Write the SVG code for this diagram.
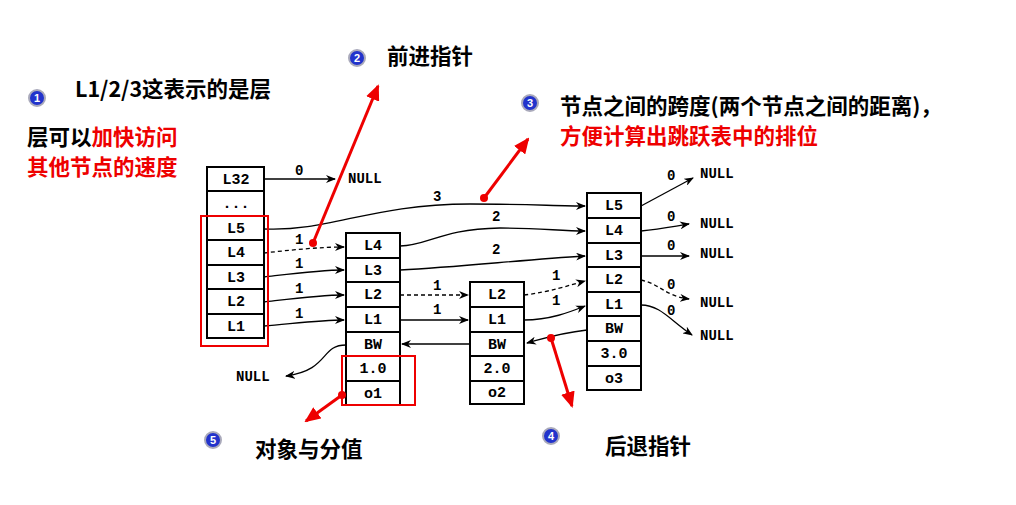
<svg xmlns="http://www.w3.org/2000/svg" width="1016" height="505" viewBox="0 0 1016 505">
<defs>
<marker id="a" markerWidth="10" markerHeight="8" refX="9" refY="4" orient="auto" markerUnits="userSpaceOnUse"><path d="M0,0 L10,4 L0,8 L3,4 Z" fill="#000"/></marker>
<marker id="r" markerWidth="16" markerHeight="14" refX="14" refY="7" orient="auto" markerUnits="userSpaceOnUse"><path d="M0,0 L16,7 L0,14 Z" fill="#e00"/></marker>
<style>
.c{fill:#fff;stroke:#000;stroke-width:2}
.t{font-family:"Liberation Mono",monospace;font-size:15px;font-weight:bold;text-anchor:middle}
.n{font-family:"Liberation Mono",monospace;font-size:14px;font-weight:bold}
.l{fill:none;stroke:#000;stroke-width:1.3;marker-end:url(#a)}
.d{stroke-dasharray:4,3}
.rb{fill:none;stroke:#e00;stroke-width:2}
.ra{stroke:#e00;stroke-width:3;marker-end:url(#r)}
.h{font-family:"Noto Sans CJK SC",sans-serif;font-size:21.5px;font-weight:bold}
.red{fill:#e00}
.b{fill:#2233cc;stroke:#aab;stroke-width:2}
.bn{font-family:"Liberation Sans",sans-serif;font-size:11px;fill:#fff;font-weight:bold;text-anchor:middle}
</style>
</defs>
<g id="n0">
<rect class="c" x="207" y="167" width="57" height="171"/>
<path d="M207 191H264M207 216H264M207 240H264M207 265H264M207 289H264M207 314H264" stroke="#000" stroke-width="2"/>
<text class="t" x="236" y="184">L32</text><text class="t" x="236" y="208">...</text><text class="t" x="236" y="233">L5</text><text class="t" x="236" y="257">L4</text><text class="t" x="236" y="282">L3</text><text class="t" x="236" y="306">L2</text><text class="t" x="236" y="331">L1</text>
</g>
<g id="n1">
<rect class="c" x="346" y="233" width="54" height="172"/>
<path d="M346 258H400M346 282H400M346 307H400M346 332H400M346 356H400M346 381H400" stroke="#000" stroke-width="2"/>
<text class="t" x="373" y="250">L4</text><text class="t" x="373" y="275">L3</text><text class="t" x="373" y="299">L2</text><text class="t" x="373" y="324">L1</text><text class="t" x="373" y="349">BW</text><text class="t" x="373" y="373">1.0</text><text class="t" x="373" y="398">o1</text>
</g>
<g id="n2">
<rect class="c" x="470" y="282" width="54" height="122"/>
<path d="M470 307H524M470 332H524M470 356H524M470 381H524" stroke="#000" stroke-width="2"/>
<text class="t" x="497" y="299">L2</text><text class="t" x="497" y="324">L1</text><text class="t" x="497" y="349">BW</text><text class="t" x="497" y="373">2.0</text><text class="t" x="497" y="397">o2</text>
</g>
<g id="n3">
<rect class="c" x="587" y="193" width="54" height="197"/>
<path d="M587 218H641M587 243H641M587 267H641M587 292H641M587 316H641M587 341H641M587 366H641" stroke="#000" stroke-width="2"/>
<text class="t" x="614" y="210">L5</text><text class="t" x="614" y="235">L4</text><text class="t" x="614" y="260">L3</text><text class="t" x="614" y="284">L2</text><text class="t" x="614" y="309">L1</text><text class="t" x="614" y="333">BW</text><text class="t" x="614" y="358">3.0</text><text class="t" x="614" y="383">o3</text>
</g>
<g id="connectors">
<path class="l" d="M264 179H335"/>
<path class="l" d="M264 229C330 232 370 204 470 204C520 204 560 206 585 206"/>
<path class="l d" d="M264 253C290 250 320 247 344 247"/>
<path class="l" d="M264 277C290 274 320 270 344 270"/>
<path class="l" d="M264 302C290 299 320 295 344 295"/>
<path class="l" d="M264 326C290 324 320 320 344 320"/>
<path class="l" d="M400 246C430 245 440 229 500 228C540 228 560 231 585 231"/>
<path class="l" d="M400 270C460 267 520 260 585 256"/>
<path class="l d" d="M400 295H468"/>
<path class="l" d="M400 320H468"/>
<path class="l d" d="M524 295C550 292 570 285 585 281"/>
<path class="l" d="M524 320C550 320 570 312 585 306"/>
<path class="l" d="M587 330C560 333 545 338 527 343"/>
<path class="l" d="M470 344H402"/>
<path class="l" d="M346 345C320 345 330 370 286 376"/>
<path class="l" d="M641 206L693 178"/>
<path class="l" d="M641 231C660 229 670 227 689 224"/>
<path class="l" d="M641 256H689"/>
<path class="l d" d="M641 280C660 284 665 296 689 299"/>
<path class="l" d="M641 305C660 305 670 320 692 335"/>
</g>
<g class="n">
<text x="295" y="175">0</text><text x="348" y="183">NULL</text>
<text x="433" y="201">3</text>
<text x="295" y="244">1</text><text x="295" y="268">1</text><text x="295" y="293">1</text><text x="295" y="318">1</text>
<text x="492" y="221">2</text><text x="492" y="254">2</text>
<text x="433" y="290">1</text><text x="433" y="314">1</text>
<text x="552" y="280">1</text><text x="552" y="305">1</text>
<text x="236" y="381">NULL</text>
<text x="667" y="180">0</text><text x="700" y="178">NULL</text>
<text x="667" y="221">0</text><text x="700" y="228">NULL</text>
<text x="667" y="250">0</text><text x="700" y="258">NULL</text>
<text x="667" y="289">0</text><text x="700" y="307">NULL</text>
<text x="667" y="315">0</text><text x="700" y="340">NULL</text>
</g>
<rect class="rb" x="201" y="216" width="67" height="130"/>
<rect class="rb" x="342" y="356" width="73" height="49"/>
<g>
<line class="ra" x1="313" y1="243" x2="378" y2="86"/><circle cx="313" cy="243" r="4" fill="#e00"/>
<line class="ra" x1="484" y1="198" x2="528" y2="139"/><circle cx="484" cy="198" r="4" fill="#e00"/>
<line class="ra" x1="551" y1="338" x2="572" y2="406"/><circle cx="551" cy="338" r="4" fill="#e00"/>
<line class="ra" x1="342" y1="395" x2="306" y2="421"/><circle cx="342" cy="395" r="4" fill="#e00"/>
</g>
<g>
<circle class="b" cx="37" cy="98" r="8"/><text class="bn" x="37" y="102">1</text>
<circle class="b" cx="357" cy="58" r="8"/><text class="bn" x="357" y="62">2</text>
<circle class="b" cx="530" cy="103" r="8"/><text class="bn" x="530" y="107">3</text>
<circle class="b" cx="551" cy="436" r="8"/><text class="bn" x="551" y="440">4</text>
<circle class="b" cx="213" cy="440" r="8"/><text class="bn" x="213" y="444">5</text>
</g>
<text class="h" x="75" y="97">L1/2/3这表示的是层</text>
<text class="h" x="27" y="145">层可以<tspan class="red">加快访问</tspan></text>
<text class="h red" x="27" y="175">其他节点的速度</text>
<text class="h" x="387" y="64">前进指针</text>
<text class="h" x="560" y="114">节点之间的跨度(两个节点之间的距离)，</text>
<text class="h red" x="560" y="144">方便计算出跳跃表中的排位</text>
<text class="h" x="255" y="457">对象与分值</text>
<text class="h" x="605" y="454">后退指针</text>
</svg>
